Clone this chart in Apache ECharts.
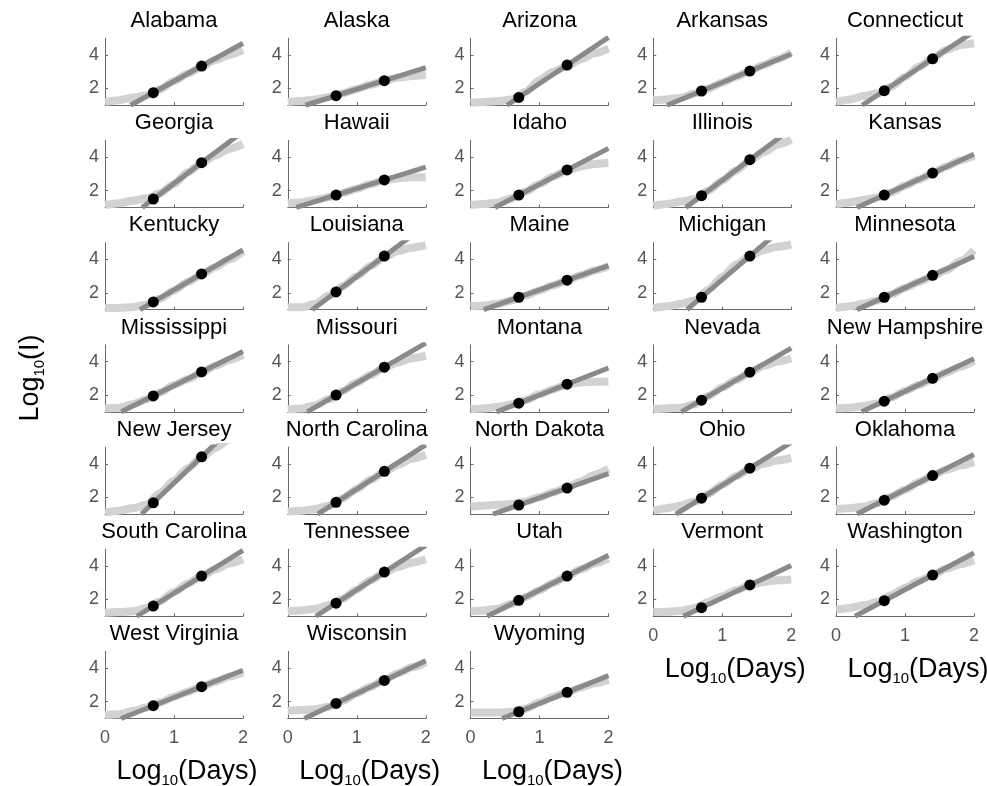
<!DOCTYPE html>
<html><head><meta charset="utf-8">
<script src="https://cdn.jsdelivr.net/npm/echarts@6/dist/echarts.min.js"></script>
<style>html,body{margin:0;padding:0;background:#fff}#c{width:987px;height:786px}</style>
</head><body><div id="c"></div>
<script>
// ---- data ----
const states = ['Alabama','Alaska','Arizona','Arkansas','Connecticut','Georgia','Hawaii','Idaho','Illinois','Kansas','Kentucky','Louisiana','Maine','Michigan','Minnesota','Mississippi','Missouri','Montana','Nevada','New Hampshire','New Jersey','North Carolina','North Dakota','Ohio','Oklahoma','South Carolina','Tennessee','Utah','Vermont','Washington','West Virginia','Wisconsin','Wyoming'];
const xTicks = [0, 1, 2];
const yTicks = [2, 4];
const dotX = [0.7, 1.4];
const curveX = [0, 0.2, 0.4, 0.6, 0.8, 1.0, 1.2, 1.4, 1.6, 1.8, 2.0];
const dot1 = [1.75,1.57,1.47,1.85,1.87, 1.5,1.74,1.74,1.7,1.74, 1.46,2.06,1.74,1.74,1.74, 1.95,2.0,1.52,1.7,1.64, 1.67,1.7,1.54,1.95,1.83, 1.61,1.78,1.95,1.51,1.93, 1.76,1.9,1.4];
const dot2 = [3.34,2.47,3.4,3.04,3.77, 3.67,2.64,3.24,3.85,3.05, 3.13,4.2,2.76,4.2,3.05, 3.38,3.67,2.65,3.37,3.0, 4.42,3.55,2.55,3.74,3.3, 3.4,3.64,3.4,2.87,3.46, 2.9,3.27,2.56];
const alabama = [1.2,1.3,1.45,1.6,1.95,2.45,2.9,3.3,3.7,4.0,4.3];
const alaska = [1.2,1.25,1.35,1.5,1.72,1.97,2.22,2.47,2.65,2.75,2.8];
const arizona = [1.15,1.2,1.25,1.35,1.8,2.5,3.0,3.35,3.75,4.1,4.4];
const arkansas = [1.3,1.35,1.45,1.7,2.0,2.35,2.7,3.05,3.4,3.75,4.15];
const connecticut = [1.2,1.35,1.55,1.7,2.1,2.7,3.3,3.8,4.3,4.6,4.7];
const georgia = [1.15,1.25,1.4,1.55,1.85,2.4,3.1,3.65,4.1,4.5,4.8];
const hawaii = [1.25,1.3,1.45,1.62,1.87,2.12,2.4,2.62,2.75,2.8,2.8];
const idaho = [1.15,1.2,1.3,1.55,1.95,2.4,2.85,3.2,3.45,3.6,3.65];
const illinois = [1.1,1.2,1.35,1.5,2.0,2.6,3.2,3.8,4.3,4.75,5.05];
const kansas = [1.2,1.3,1.45,1.6,1.9,2.3,2.65,3.05,3.45,3.8,4.1];
const kentucky = [1.1,1.1,1.15,1.3,1.65,2.15,2.65,3.1,3.55,4.0,4.5];
const louisiana = [1.15,1.15,1.35,1.85,2.4,3.0,3.6,4.15,4.5,4.7,4.85];
const maine = [1.2,1.25,1.35,1.55,1.85,2.15,2.45,2.75,3.05,3.35,3.6];
const michigan = [1.1,1.2,1.35,1.55,2.2,2.95,3.7,4.2,4.55,4.75,4.9];
const minnesota = [1.1,1.2,1.35,1.55,1.9,2.3,2.65,3.0,3.35,3.9,4.55];
const mississippi = [1.2,1.25,1.45,1.75,2.15,2.6,2.95,3.35,3.75,4.1,4.4];
const missouri = [1.15,1.2,1.4,1.75,2.25,2.75,3.2,3.65,3.95,4.2,4.35];
const montana = [1.15,1.2,1.3,1.45,1.7,2.05,2.35,2.65,2.75,2.8,2.8];
const nevada = [1.15,1.2,1.25,1.45,1.95,2.45,2.9,3.35,3.75,4.0,4.2];
const newHampshire = [1.2,1.25,1.35,1.5,1.85,2.25,2.6,2.95,3.35,3.7,4.05];
const newJersey = [1.1,1.2,1.35,1.55,2.25,3.0,3.75,4.4,4.95,5.45,5.8];
const northCarolina = [1.15,1.2,1.3,1.5,1.95,2.5,3.05,3.5,3.95,4.3,4.55];
const northDakota = [1.45,1.5,1.55,1.6,1.75,2.0,2.3,2.6,2.95,3.35,3.7];
const ohio = [1.2,1.35,1.5,1.75,2.2,2.75,3.25,3.7,4.0,4.2,4.35];
const oklahoma = [1.3,1.35,1.45,1.65,2.05,2.45,2.9,3.3,3.65,3.9,4.1];
const southCarolina = [1.2,1.25,1.3,1.5,1.9,2.45,2.95,3.4,3.8,4.15,4.4];
const tennessee = [1.3,1.35,1.45,1.65,2.05,2.6,3.15,3.6,3.95,4.2,4.4];
const utah = [1.3,1.35,1.45,1.75,2.15,2.55,3.0,3.4,3.8,4.15,4.45];
const vermont = [1.25,1.27,1.33,1.5,1.85,2.2,2.55,2.85,3.05,3.15,3.2];
const washington = [1.4,1.5,1.65,1.85,2.25,2.7,3.1,3.45,3.85,4.1,4.35];
const westVirginia = [1.2,1.25,1.45,1.65,1.95,2.3,2.6,2.9,3.2,3.5,3.75];
const wisconsin = [1.45,1.5,1.55,1.7,2.05,2.5,2.9,3.3,3.7,4.05,4.35];
const wyoming = [1.35,1.35,1.35,1.4,1.6,1.95,2.3,2.55,2.85,3.1,3.3];
const curves = [alabama,alaska,arizona,arkansas,connecticut,georgia,hawaii,idaho,illinois,kansas,kentucky,louisiana,maine,michigan,minnesota,mississippi,missouri,montana,nevada,newHampshire,newJersey,northCarolina,northDakota,ohio,oklahoma,southCarolina,tennessee,utah,vermont,washington,westVirginia,wisconsin,wyoming];
const Y_MIN = 1, Y_MAX = 5, X_MIN = 0, X_MAX = 2;

// ---- build ----
const FONT = '"Liberation Sans", Arial, Helvetica, sans-serif';
const AX = '#6a6a6a', LAB = '#555555';
const grids = [], xAxes = [], yAxes = [], series = [], graphics = [];
const W = 138, H = 67;
const labelRich = {
  a: { fontSize: 27, fontFamily: FONT, fill: '#000', lineHeight: 30, verticalAlign: 'top' },
  s: { fontSize: 15, fontFamily: FONT, fill: '#000', lineHeight: 10, verticalAlign: 'bottom' }
};
states.forEach((name, i) => {
  const r = Math.floor(i / 5), c = i % 5;
  const left = 105 + 182.75 * c, top = 38.25 + 102.2 * r;
  const isBottom = (r === 6) || (r === 5 && c >= 3);
  grids.push({ left: left, top: top, width: W, height: H });
  xAxes.push({
    gridIndex: i, type: 'value', min: X_MIN, max: X_MAX, interval: 1,
    axisLine: { show: true, onZero: false, lineStyle: { color: AX, width: 1 } },
    axisTick: { show: true, inside: true, length: 3, lineStyle: { color: AX } },
    axisLabel: { show: isBottom, fontSize: 18, color: LAB, margin: 11, fontFamily: FONT,
      customValues: xTicks },
    splitLine: { show: false }
  });
  yAxes.push({
    gridIndex: i, type: 'value', min: Y_MIN, max: Y_MAX,
    axisLine: { show: true, onZero: false, lineStyle: { color: AX, width: 1 } },
    axisTick: { show: true, inside: true, length: 3, lineStyle: { color: AX }, customValues: yTicks },
    axisLabel: { show: true, fontSize: 18, color: LAB, margin: 6, fontFamily: FONT, customValues: yTicks },
    splitLine: { show: false }
  });
  series.push({
    type: 'line', xAxisIndex: i, yAxisIndex: i, z: 2, silent: true,
    data: curveX.map((x, k) => [x, curves[i][k]]),
    smooth: 0.25, smoothMonotone: 'x', symbol: 'none', clip: true,
    lineStyle: { width: 8, color: '#d2d2d2', cap: 'butt', join: 'round' }
  });
  const m = (dot2[i] - dot1[i]) / (dotX[1] - dotX[0]);
  const x0 = Math.max(X_MIN, dotX[0] + (Y_MIN - dot1[i]) / m);
  series.push({
    type: 'line', xAxisIndex: i, yAxisIndex: i, z: 3, silent: true,
    data: [[x0, dot1[i] + m * (x0 - dotX[0])], [X_MAX, dot1[i] + m * (X_MAX - dotX[0])]],
    symbol: 'none', clip: true,
    lineStyle: { width: 5, color: '#8a8a8a', cap: 'butt' }
  });
  series.push({
    type: 'scatter', xAxisIndex: i, yAxisIndex: i, z: 4, silent: true,
    data: [[dotX[0], dot1[i]], [dotX[1], dot2[i]]],
    symbolSize: 11, itemStyle: { color: '#000', opacity: 1 }
  });
  graphics.push({
    type: 'text', x: left + W / 2, y: 21 + 102.2 * r,
    style: { text: name, fontSize: 22, fontFamily: FONT, fill: '#000',
      align: 'center', verticalAlign: 'middle', textAlign: 'center', textVerticalAlign: 'middle' }
  });
  if (isBottom) {
    graphics.push({
      type: 'text', x: left + W / 2 + 13, y: top + H + 55,
      style: { text: '{a|Log}{s|10}{a|(Days)}', fill: '#000', fontFamily: FONT,
        align: 'center', verticalAlign: 'middle', textAlign: 'center', textVerticalAlign: 'middle',
        rich: labelRich }
    });
  }
});
graphics.push({
  type: 'text', x: 32, y: 378, rotation: Math.PI / 2,
  style: { text: '{a|Log}{s|10}{a|(I)}', fill: '#000', fontFamily: FONT,
    align: 'center', verticalAlign: 'middle', textAlign: 'center', textVerticalAlign: 'middle',
    rich: labelRich }
});

const chart = echarts.init(document.getElementById('c'), null, { renderer: 'canvas' });
chart.setOption({
  animation: false,
  backgroundColor: '#ffffff',
  grid: grids, xAxis: xAxes, yAxis: yAxes, series: series,
  graphic: { elements: graphics }
});
</script></body></html>
